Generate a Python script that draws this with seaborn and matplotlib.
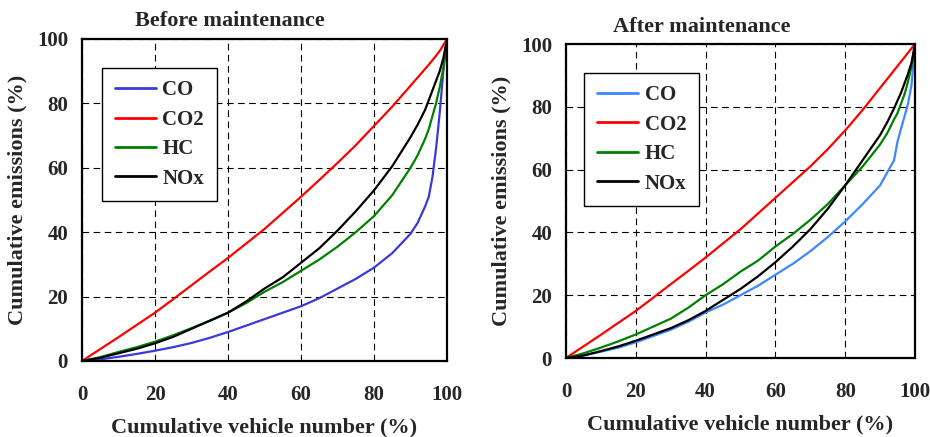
import matplotlib
matplotlib.use('Agg')
import matplotlib.pyplot as plt
import pandas as pd
import seaborn as sns

# cumulative vehicle share (%)
x_pts = [0, 5, 10, 15, 20, 25, 30, 35, 40, 45, 50, 55, 60, 65, 70, 75, 80, 85, 90,
         92, 94, 95, 96, 97, 98, 99, 100]

# Before maintenance
before_co = [0, 0.5, 1.3, 2.2, 3.2, 4.3, 5.6, 7.2, 9, 11, 13, 15, 17, 19.5, 22.5, 25.5, 29, 33.5, 39.5,
             43, 48, 51, 57, 66, 77, 90, 100]
before_co2 = [0, 3.7, 7.4, 11.2, 15, 19.2, 23.5, 27.8, 32, 36.5, 41, 46, 51, 56.2, 61.5, 67, 73, 79, 85.5,
              88.1, 90.7, 92, 93.4, 94.8, 96.3, 98.1, 100]
before_hc = [0, 1.2, 2.8, 4.3, 6, 8, 10.2, 12.5, 15, 18, 21.5, 24.5, 28, 31.5, 35.5, 40, 45, 51.5, 60,
             64, 69, 72, 76, 80, 85, 91, 100]
before_nox = [0, 1, 2.4, 3.8, 5.5, 7.5, 10, 12.5, 15, 18.5, 22.5, 26, 30.5, 35, 40.5, 46.5, 53, 60.5, 69.5,
              73.5, 78, 81, 84, 87, 90, 94, 100]

# After maintenance
after_co = [0, 0.8, 2, 3.3, 5, 7, 9, 11.5, 14.5, 17, 20, 23, 26.5, 30, 34, 38.5, 43.5, 49, 55,
            59, 63, 69, 73, 77, 81, 87, 100]
after_co2 = [0, 3.7, 7.4, 11.2, 15, 19.2, 23.5, 27.7, 32, 36.5, 41, 46, 51, 56, 61, 66.5, 72.5, 79, 86,
             88.8, 91.6, 93, 94.4, 95.8, 97.2, 98.6, 100]
after_hc = [0, 1.5, 3.3, 5.3, 7.5, 10, 12.5, 16, 20, 23.5, 27.5, 31, 35.5, 39.5, 44, 49, 55, 61, 68,
            71.5, 76, 78, 81, 84, 88, 93, 100]
after_nox = [0, 0.8, 2.2, 3.7, 5.5, 7.5, 9.5, 12, 15, 18.5, 22, 26, 30.5, 35.5, 41, 47.5, 55, 63, 71,
             75, 79.5, 82, 84.5, 87.5, 90.5, 94, 100]

pollutants = ['CO', 'CO2', 'HC', 'NOx']


def make_df(series):
    rows = []
    for name, vals in zip(pollutants, series):
        for xv, yv in zip(x_pts, vals):
            rows.append({'veh': xv, 'emis': yv, 'pollutant': name})
    return pd.DataFrame(rows)


df_before = make_df([before_co, before_co2, before_hc, before_nox])
df_after = make_df([after_co, after_co2, after_hc, after_nox])

sns.set_style('white')
plt.rcParams['font.family'] = ['Liberation Serif', 'DejaVu Serif']
plt.rcParams['font.weight'] = 'bold'

fig = plt.figure(figsize=(9.3, 4.37), dpi=100)
W, H = 930, 437
ax1 = fig.add_axes([82 / W, 1 - 361 / H, 365 / W, 322 / H])
ax2 = fig.add_axes([566 / W, 1 - 358 / H, 349 / W, 314 / H])

panels = [
    (ax1, df_before, 'Before maintenance', '#3a3ad8', (0.055, 0.91), 0.405),
    (ax2, df_after, 'After maintenance', '#3f86ff', (0.052, 0.908), 0.39),
]

for ax, df, title, co_col, leg_pos, title_x in panels:
    pal = {'CO': co_col, 'CO2': '#ff0000', 'HC': '#008000', 'NOx': '#000000'}
    sns.lineplot(data=df, x='veh', y='emis', hue='pollutant', hue_order=pollutants,
                 palette=pal, linewidth=1.6, ax=ax)
    ax.set_xlim(0, 100)
    ax.set_ylim(0, 100)
    ax.set_xticks([0, 20, 40, 60, 80, 100])
    ax.set_yticks([0, 20, 40, 60, 80, 100])
    ax.grid(True, color='black', linestyle=(0, (6, 4)), linewidth=0.8)
    ax.set_axisbelow(True)
    for s in ax.spines.values():
        s.set_color('black')
        s.set_linewidth(1.6)
    ax.tick_params(axis='both', length=0, labelsize=15)
    ax.tick_params(axis='x', pad=17)
    ax.tick_params(axis='y', pad=10)
    for lab in ax.get_xticklabels() + ax.get_yticklabels():
        lab.set_fontweight('bold')
    ax.set_title(title, fontsize=16, fontweight='bold', pad=9, x=title_x)
    ax.set_xlabel('Cumulative vehicle number (%)', fontsize=16, fontweight='bold', labelpad=9)
    ax.set_ylabel('Cumulative emissions (%)', fontsize=16, fontweight='bold', labelpad=7)
    leg = ax.legend(loc='upper left', bbox_to_anchor=leg_pos, borderaxespad=0,
                    fancybox=False, frameon=True, edgecolor='black', framealpha=1,
                    prop={'size': 15, 'weight': 'bold'}, handlelength=2.0,
                    labelspacing=0.45, handletextpad=0.3, borderpad=0.6)
    leg.get_frame().set_linewidth(1.0)
    for ln in leg.get_lines():
        ln.set_linewidth(2.0)

fig.savefig('out.png', dpi=100)
